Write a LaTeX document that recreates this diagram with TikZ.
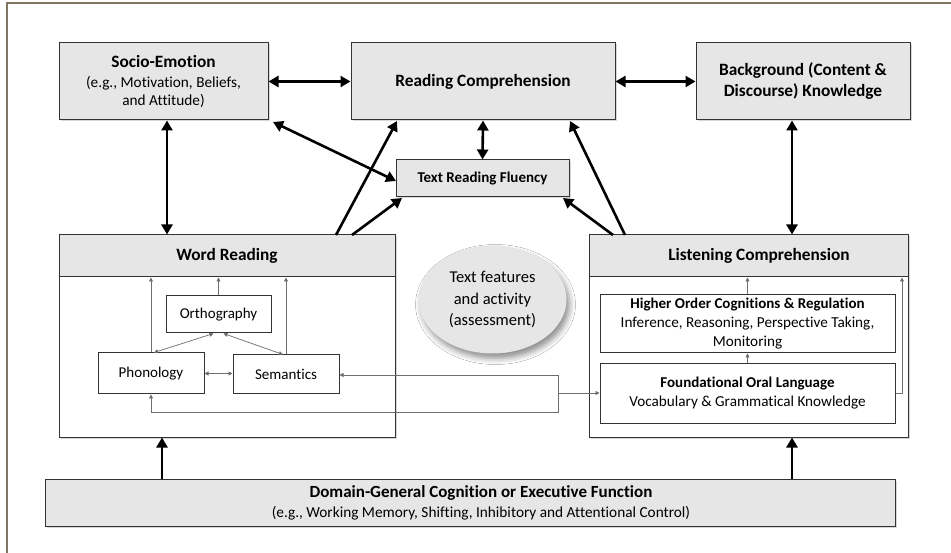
\documentclass[tikz,border=0pt]{standalone}
\usepackage{fontspec}
\setmainfont{Carlito}[Ligatures=NoCommon]
\usetikzlibrary{arrows.meta,shadows,shadows.blur,calc,shapes.geometric}
\definecolor{boxgray}{RGB}{230,230,230}
\definecolor{framecol}{RGB}{128,118,98}
\definecolor{linegray}{RGB}{110,110,110}
\newcommand{\hdfont}{\fontsize{17.3}{21}\selectfont\bfseries}
\newcommand{\inbold}{\fontsize{15}{19}\selectfont\bfseries}
\begin{document}
\begin{tikzpicture}[x=1pt,y=-1pt,
  greybox/.style={draw=black!80, fill=boxgray, line width=1pt, inner sep=2pt, align=center,
    drop shadow={shadow xshift=1.5pt, shadow yshift=-1.5pt, opacity=0.3}},
  headbox/.style={draw=black!80, fill=boxgray, line width=1pt, inner sep=2pt, align=center},
  outerbox/.style={draw=black!80, fill=white, line width=1pt,
    drop shadow={shadow xshift=1.5pt, shadow yshift=-1.5pt, opacity=0.3}},
  innerbox/.style={draw=black!80, fill=white, line width=1pt, inner sep=2pt, align=center},
  bigarrow/.style={draw=black, line width=2.6pt, -{Triangle[length=10pt,width=11pt]}},
  bigboth/.style={draw=black, line width=2.6pt, {Triangle[length=10pt,width=11pt]}-{Triangle[length=10pt,width=11pt]}},
  thinarrow/.style={draw=linegray, line width=0.7pt, -{Triangle[length=4pt,width=4pt]}},
  thinboth/.style={draw=linegray, line width=0.7pt, {Triangle[length=4pt,width=4pt]}-{Triangle[length=4pt,width=4pt]}},
  thinline/.style={draw=linegray, line width=0.7pt}
]
\useasboundingbox (0,0) rectangle (951,553);
\fill[white] (0,0) rectangle (951,553);
\draw[framecol, line width=1.6pt] (7,3) rectangle (965,570);

% top row
\node[greybox, minimum width=209pt, minimum height=77pt, font=\fontsize{15.3}{18.5}\selectfont] (socio) at (163.5,81.5)
  {{\hdfont Socio-Emotion}\\[1pt](e.g., Motivation, Beliefs,\\and Attitude)};
\node[greybox, minimum width=264pt, minimum height=77pt, font=\hdfont] (rc) at (483,81.5)
  {Reading Comprehension};
\node[greybox, minimum width=214pt, minimum height=77pt, font=\hdfont] (bg) at (803,81.5)
  {Background (Content \&\\Discourse) Knowledge};

% fluency
\node[greybox, minimum width=173pt, minimum height=37pt, font=\fontsize{15}{18}\selectfont\bfseries] (trf) at (482.5,178.5)
  {Text Reading Fluency};

% word reading block
\node[outerbox, minimum width=336pt, minimum height=202pt] (wr) at (227,336) {};
\node[headbox, minimum width=336pt, minimum height=42pt, font=\hdfont] (wrh) at (227,256) {Word Reading};
\node[innerbox, minimum width=105pt, minimum height=37pt, font=\fontsize{15}{18}\selectfont] (orth) at (218.5,314.5) {Orthography};
\node[innerbox, minimum width=106pt, minimum height=41pt, font=\fontsize{15}{18}\selectfont] (phon) at (151,373.5) {Phonology};
\node[innerbox, minimum width=106pt, minimum height=39pt, font=\fontsize{15}{18}\selectfont] (sem) at (286,374.5) {Semantics};

% listening comprehension block
\node[outerbox, minimum width=319pt, minimum height=202pt] (lc) at (748.5,336) {};
\node[headbox, minimum width=319pt, minimum height=42pt, font=\hdfont] (lch) at (748.5,256) {\hspace*{21pt}Listening Comprehension};
\node[innerbox, minimum width=295pt, minimum height=58pt, font=\fontsize{15.2}{19}\selectfont] (hoc) at (747.5,324)
  {{\inbold Higher Order Cognitions \& Regulation}\\Inference, Reasoning, Perspective Taking,\\Monitoring};
\node[innerbox, minimum width=295pt, minimum height=59pt, font=\fontsize{15.2}{19}\selectfont] (fol) at (747.5,393.5)
  {{\inbold Foundational Oral Language}\\Vocabulary \& Grammatical Knowledge};

% text features ellipse
\node[ellipse, fill=boxgray, minimum width=148pt, minimum height=108pt, inner sep=0pt, align=center,
  font=\fontsize{16.5}{21.5}\selectfont,
  blur shadow={shadow xshift=3pt, shadow yshift=-5pt, shadow blur radius=6pt, shadow opacity=45}]
  (tf) at (492.5,299.5)
  {Text features\\and activity\\(assessment)};

% domain-general
\node[greybox, minimum width=850pt, minimum height=47pt, font=\fontsize{15.3}{20}\selectfont] (dom) at (470,502.5)
  {\hspace*{22pt}{\fontsize{17}{20}\selectfont\bfseries Domain-General Cognition or Executive Function}\\
   \hspace*{22pt}(e.g., Working Memory, Shifting, Inhibitory and Attentional Control)};

% named points on box edges
\coordinate (socioBR) at (273,122);
\coordinate (trfL) at (396,181);
\coordinate (wrA) at (336,235);
\coordinate (wrB) at (352,235);
\coordinate (lcA) at (613,235);
\coordinate (lcB) at (625,235);
\coordinate (rcL) at (397,121);
\coordinate (rcR) at (570,121);
\coordinate (trfBL) at (402,198);
\coordinate (trfBR) at (563,198);
\coordinate (jt) at (558,375);
\coordinate (jm) at (558,393);
\coordinate (jb) at (558,412);
\coordinate (fr) at (902,393);
\coordinate (colS) at (167,0);
\coordinate (colB) at (792,0);
\coordinate (colW) at (162,0);

% thick connectors
\draw[bigboth] (socio.east) -- (rc.west);
\draw[bigboth] (rc.east) -- (bg.west);
\draw[bigboth] (socio.south -| colS) -- (wr.north -| colS);
\draw[bigboth] (bg.south -| colB) -- (lc.north -| colB);
\draw[bigboth] (rc.south) -- (trf.north);
\draw[bigboth] (socioBR) -- (trfL);
\draw[bigarrow] (wrA) -- (rcL);
\draw[bigarrow] (wrB) -- (trfBL);
\draw[bigarrow] (lcA) -- (trfBR);
\draw[bigarrow] (lcB) -- (rcR);
\draw[bigarrow] (dom.north -| colW) -- (wr.south -| colW);
\draw[bigarrow] (dom.north -| colB) -- (lc.south -| colB);

% thin connectors inside word reading
\draw[thinarrow] (phon.north) -- (phon.north |- wrh.south);
\draw[thinarrow] (orth.north) -- (orth.north |- wrh.south);
\draw[thinarrow] (sem.north) -- (sem.north |- wrh.south);
\draw[thinboth] ($(phon.north)+(3,0)$) -- ($(orth.south)+(-5,0)$);
\draw[thinboth] ($(sem.north)+(-3,0)$) -- ($(orth.south)+(5,0)$);
\draw[thinboth] (phon.east) -- (sem.west |- phon.east);

% links between word reading and oral language
\draw[thinline, {Triangle[length=4pt,width=4pt]}-] (sem.east |- jt) -- (jt) -- (jb) -- (jb -| phon.south);
\draw[thinarrow] (jb -| phon.south) -- (phon.south);
\draw[thinarrow] (jm) -- (fol.west |- jm);

% thin connectors inside listening comprehension
\draw[thinarrow] (hoc.north) -- (hoc.north |- lch.south);
\draw[thinarrow] (fol.north) -- (hoc.south);
\draw[thinarrow] (fol.east |- fr) -- (fr) -- (fr |- lch.south);
\end{tikzpicture}
\end{document}
